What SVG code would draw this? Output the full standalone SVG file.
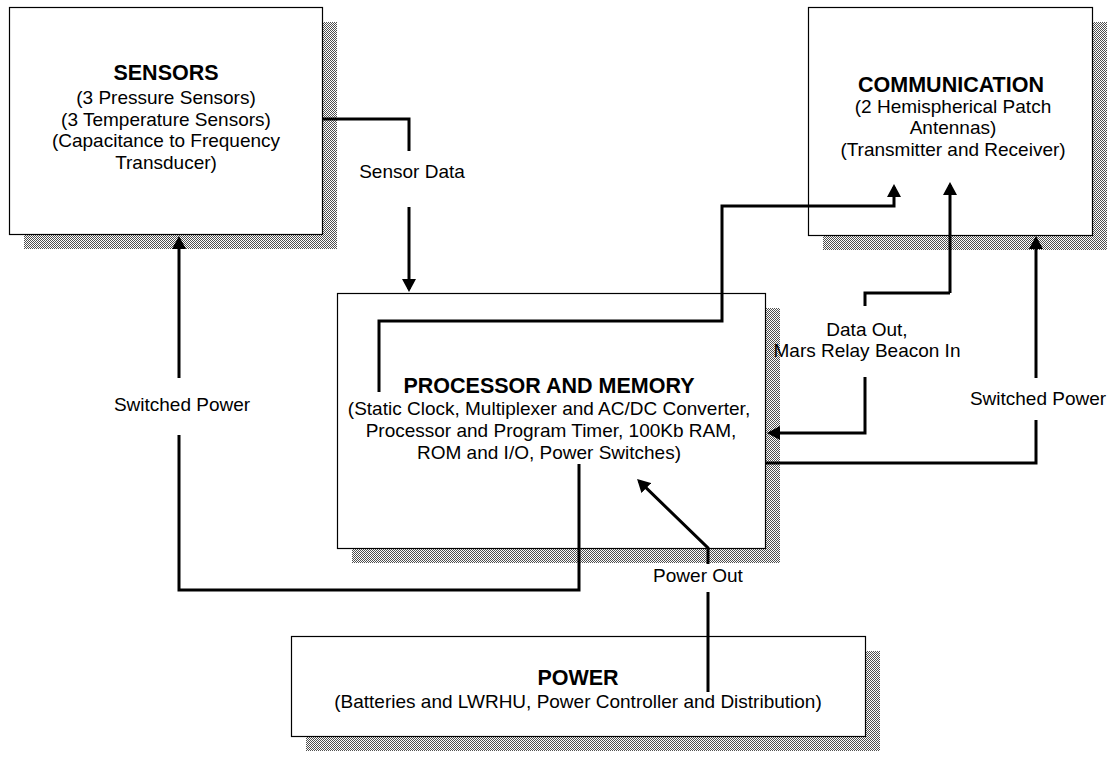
<svg xmlns="http://www.w3.org/2000/svg" width="1111" height="759" viewBox="0 0 1111 759">
<defs>
<pattern id="dots" width="2" height="2" patternUnits="userSpaceOnUse">
<rect width="2" height="2" fill="#ffffff"/>
<rect width="1" height="1" fill="#505050"/>
<rect x="1" y="1" width="1" height="1" fill="#505050"/>
</pattern>
<marker id="arr" markerUnits="userSpaceOnUse" markerWidth="14" markerHeight="14" refX="10" refY="7" orient="auto">
<path d="M0,0 L13,7 L0,14 Z" fill="#000"/>
</marker>
<style>
.shadow{fill:url(#dots);stroke:none}
.box{fill:#fff;stroke:#000;stroke-width:1.2}
.t{font-family:"Liberation Sans",Arial,sans-serif;font-size:19px;fill:#000;text-anchor:middle}
.b{font-family:"Liberation Sans",Arial,sans-serif;font-size:21.5px;font-weight:bold;fill:#000;text-anchor:middle}
.c{fill:none;stroke:#000;stroke-width:3}
.a{marker-end:url(#arr)}
</style>
</defs>
<rect width="1111" height="759" fill="#fff"/>

<g id="sensors">
<rect class="shadow" x="24" y="22" width="313" height="227"/>
<rect class="box" x="9.5" y="7.5" width="313" height="227"/>
<text class="b" x="166" y="80">SENSORS</text>
<text class="t" x="166" y="104">(3 Pressure Sensors)</text>
<text class="t" x="166" y="126">(3 Temperature Sensors)</text>
<text class="t" x="166" y="147">(Capacitance to Frequency</text>
<text class="t" x="166" y="169">Transducer)</text>
</g>

<g id="communication">
<rect class="shadow" x="823" y="22" width="284" height="228"/>
<rect class="box" x="808.5" y="7.5" width="284" height="228"/>
<text class="b" x="951" y="92">COMMUNICATION</text>
<text class="t" x="953" y="113">(2 Hemispherical Patch</text>
<text class="t" x="953" y="134">Antennas)</text>
<text class="t" x="953" y="156">(Transmitter and Receiver)</text>
</g>

<g id="processor">
<rect class="shadow" x="352" y="308" width="428" height="255"/>
<rect class="box" x="337.5" y="293.5" width="428" height="255"/>
<text class="b" x="549" y="393">PROCESSOR AND MEMORY</text>
<text class="t" x="549" y="415">(Static Clock, Multiplexer and AC/DC Converter,</text>
<text class="t" x="551" y="437">Processor and Program Timer, 100Kb RAM,</text>
<text class="t" x="549" y="459">ROM and I/O, Power Switches)</text>
</g>

<g id="power">
<rect class="shadow" x="306" y="651" width="574" height="100"/>
<rect class="box" x="291.5" y="636.5" width="574" height="100"/>
<text class="b" x="578" y="685">POWER</text>
<text class="t" x="578" y="708">(Batteries and LWRHU, Power Controller and Distribution)</text>
</g>

<g id="connectors">
<path class="c" d="M323,119 H409 V151"/>
<path class="c a" d="M409,207 V289"/>
<path class="c a" d="M379,392 V321 H722 V206 H894 V187"/>
<path class="c" d="M865,306 V293 H950"/>
<path class="c a" d="M950,293 V185"/>
<path class="c a" d="M865,377 V433 H770"/>
<path class="c" d="M766,463 H1036 V420"/>
<path class="c a" d="M1036,378 V239"/>
<path class="c" d="M579,464 V590 H179 V435"/>
<path class="c a" d="M179,378 V239"/>
<path class="c" d="M708,692 V592"/>
<path class="c a" d="M708,564 V548 L639.2,481.1"/>
</g>

<g id="labels">
<text class="t" x="412" y="178">Sensor Data</text>
<text class="t" x="867" y="336">Data Out,</text>
<text class="t" x="867" y="357">Mars Relay Beacon In</text>
<text class="t" x="1038" y="405">Switched Power</text>
<text class="t" x="182" y="411">Switched Power</text>
<text class="t" x="698" y="582">Power Out</text>
</g>
</svg>
